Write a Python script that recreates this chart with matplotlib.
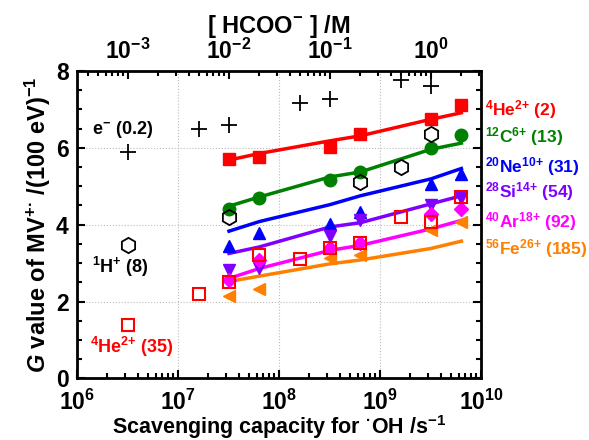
import matplotlib
matplotlib.use("Agg")
import numpy as np
import matplotlib.pyplot as plt
from matplotlib.ticker import MultipleLocator, LogLocator

plt.rcParams["font.family"] = "Liberation Sans"
plt.rcParams["font.weight"] = "bold"
plt.rcParams["mathtext.fontset"] = "custom"
plt.rcParams["mathtext.rm"] = "Liberation Sans:bold"
plt.rcParams["mathtext.it"] = "Liberation Sans:italic:bold"
plt.rcParams["mathtext.bf"] = "Liberation Sans:bold"
plt.rcParams["mathtext.default"] = "rm"

# rate constant of HCOO- + OH (M^-1 s^-1)
K_OH = 3.2e9

# [HCOO-] /M of the heavy ion runs
conc = np.array([0.01, 0.02, 0.1, 0.2, 1, 2])

# measured G values
g_he2 = [5.70, 5.75, 6.03, 6.37, 6.74, 7.12]
g_c = [4.41, 4.69, 5.17, 5.36, 6.00, 6.33]
g_ne = [3.45, 3.78, 4.02, 4.34, 5.06, 5.31]
g_si = [2.82, 2.86, 3.70, 4.13, 4.51, 4.69]
g_ar = [2.56, 3.07, 3.39, 3.51, 4.28, 4.41]
g_fe = [2.15, 2.32, 3.12, 3.22, 3.85, 4.07]

# simulated G values at the same concentrations
sim_he2 = [5.68, 5.85, 6.18, 6.31, 6.74, 6.91]
sim_c = [4.48, 4.72, 5.24, 5.37, 5.96, 6.12]
sim_ne = [3.83, 4.08, 4.52, 4.75, 5.19, 5.46]
sim_si = [3.25, 3.42, 3.94, 4.05, 4.54, 4.75]
sim_ar = [2.60, 2.86, 3.33, 3.46, 3.89, 4.11]
sim_fe = [2.52, 2.66, 2.98, 3.08, 3.38, 3.57]

# earlier data: electrons, protons, 4He2+ (35 MeV/u)
conc_e = np.array([0.001, 0.005, 0.01, 0.05, 0.1, 0.5, 1])
g_e = [5.88, 6.50, 6.59, 7.17, 7.27, 7.77, 7.60]
conc_h = np.array([0.001, 0.01, 0.2, 0.5, 1])
g_h = [3.48, 4.20, 5.10, 5.49, 6.37]
conc_he35 = np.array([0.001, 0.005, 0.01, 0.02, 0.05, 0.1, 0.2, 0.5, 1, 2])
g_he35 = [1.40, 2.20, 2.50, 3.20, 3.10, 3.40, 3.51, 4.20, 4.08, 4.71]

# top axis ticks, [HCOO-] /M
top_ticks = [1e-3, 1e-2, 1e-1, 1e0]

ions = [
    (g_he2, sim_he2, "#ff0000", "s", 8, r"$^{4}$He$^{2{+}}$ (2)", 7.0),
    (g_c, sim_c, "#008000", "o", 9, r"$^{12}$C$^{6{+}}$ (13)", 6.3),
    (g_ne, sim_ne, "#0000ff", "^", 9, r"$^{20}$Ne$^{10{+}}$ (31)", 5.52),
    (g_si, sim_si, "#8000ff", "v", 9, r"$^{28}$Si$^{14{+}}$ (54)", 4.85),
    (g_ar, sim_ar, "#ff00ff", "D", 7, r"$^{40}$Ar$^{18{+}}$ (92)", 4.08),
    (g_fe, sim_fe, "#ff8000", "<", 9, r"$^{56}$Fe$^{26{+}}$ (185)", 3.38),
]

fig = plt.figure(figsize=(5.89, 4.4), dpi=100)
ax = fig.add_axes([0.1307, 0.1400, 0.6859, 0.6990])

cap = conc * K_OH
for g, sim, col, mk, ms, lab, ylab in ions:
    ax.plot(cap, sim, "-", color=col, lw=2.5, zorder=2)
    ax.plot(cap, g, mk, color=col, ms=ms, ls="none", zorder=3)
    ax.text(1.01, ylab, lab, color=col, fontsize=12.5, fontweight="bold",
            va="center", ha="left", transform=ax.get_yaxis_transform())

ax.plot(conc_e * K_OH, g_e, "+", color="black", ms=11, mew=1.3, ls="none", zorder=3)
ax.plot(conc_h * K_OH, g_h, "h", mfc="none", mec="black", ms=11, mew=1.3,
        ls="none", zorder=3)
ax.plot(conc_he35 * K_OH, g_he35, "s", mfc="none", mec="#ff0000", ms=9,
        mew=1.5, ls="none", zorder=4)

ax.text(1.4e6, 6.48, r"e$^{-}$ (0.2)", fontsize=13, fontweight="bold", va="center")
ax.text(1.4e6, 2.91, r"$^{1}$H$^{{+}}$ (8)", fontsize=13, fontweight="bold", va="center")
ax.text(1.35e6, 0.82, r"$^{4}$He$^{2{+}}$ (35)", fontsize=13, fontweight="bold",
        va="center", color="#ff0000")

ax.set_xscale("log")
ax.set_xlim(1e6, 1e10)
ax.set_ylim(0, 8)
ax.yaxis.set_major_locator(MultipleLocator(2))
ax.yaxis.set_minor_locator(MultipleLocator(0.5))
ax.xaxis.set_minor_locator(LogLocator(base=10, subs=np.arange(2, 10)))
ax.grid(True, which="major", ls=":", color="#bbbbbb", lw=0.8)

for s in ax.spines.values():
    s.set_linewidth(2)
ax.tick_params(which="both", direction="in", width=1.5, right=True, top=False,
               labelsize=16.5)
ax.tick_params(which="major", length=6)
ax.tick_params(which="minor", length=3.5)
ax.tick_params(axis="x", pad=8)
ax.tick_params(axis="y", pad=6)

ax.set_xlabel(r"Scavenging capacity for $^{·}$OH /s$^{-1}$", fontsize=15.5,
              fontweight="bold", labelpad=-1)
ax.set_ylabel(r"$\it{G}$ value of MV$^{{+}·}$ /(100 eV)$^{-1}$", fontsize=17,
              fontweight="bold", labelpad=2)

top = ax.secondary_xaxis("top", functions=(lambda x: x / K_OH, lambda x: x * K_OH))
top.set_xticks(top_ticks)
top.tick_params(which="both", direction="in", width=1.5, labelsize=16.5)
top.tick_params(which="major", length=6, pad=5)
top.tick_params(which="minor", length=3.5)
top.set_xlabel(r"[ HCOO$^{-}$ ] /M", fontsize=17, fontweight="bold", labelpad=4)

fig.savefig("out.png", dpi=100)
